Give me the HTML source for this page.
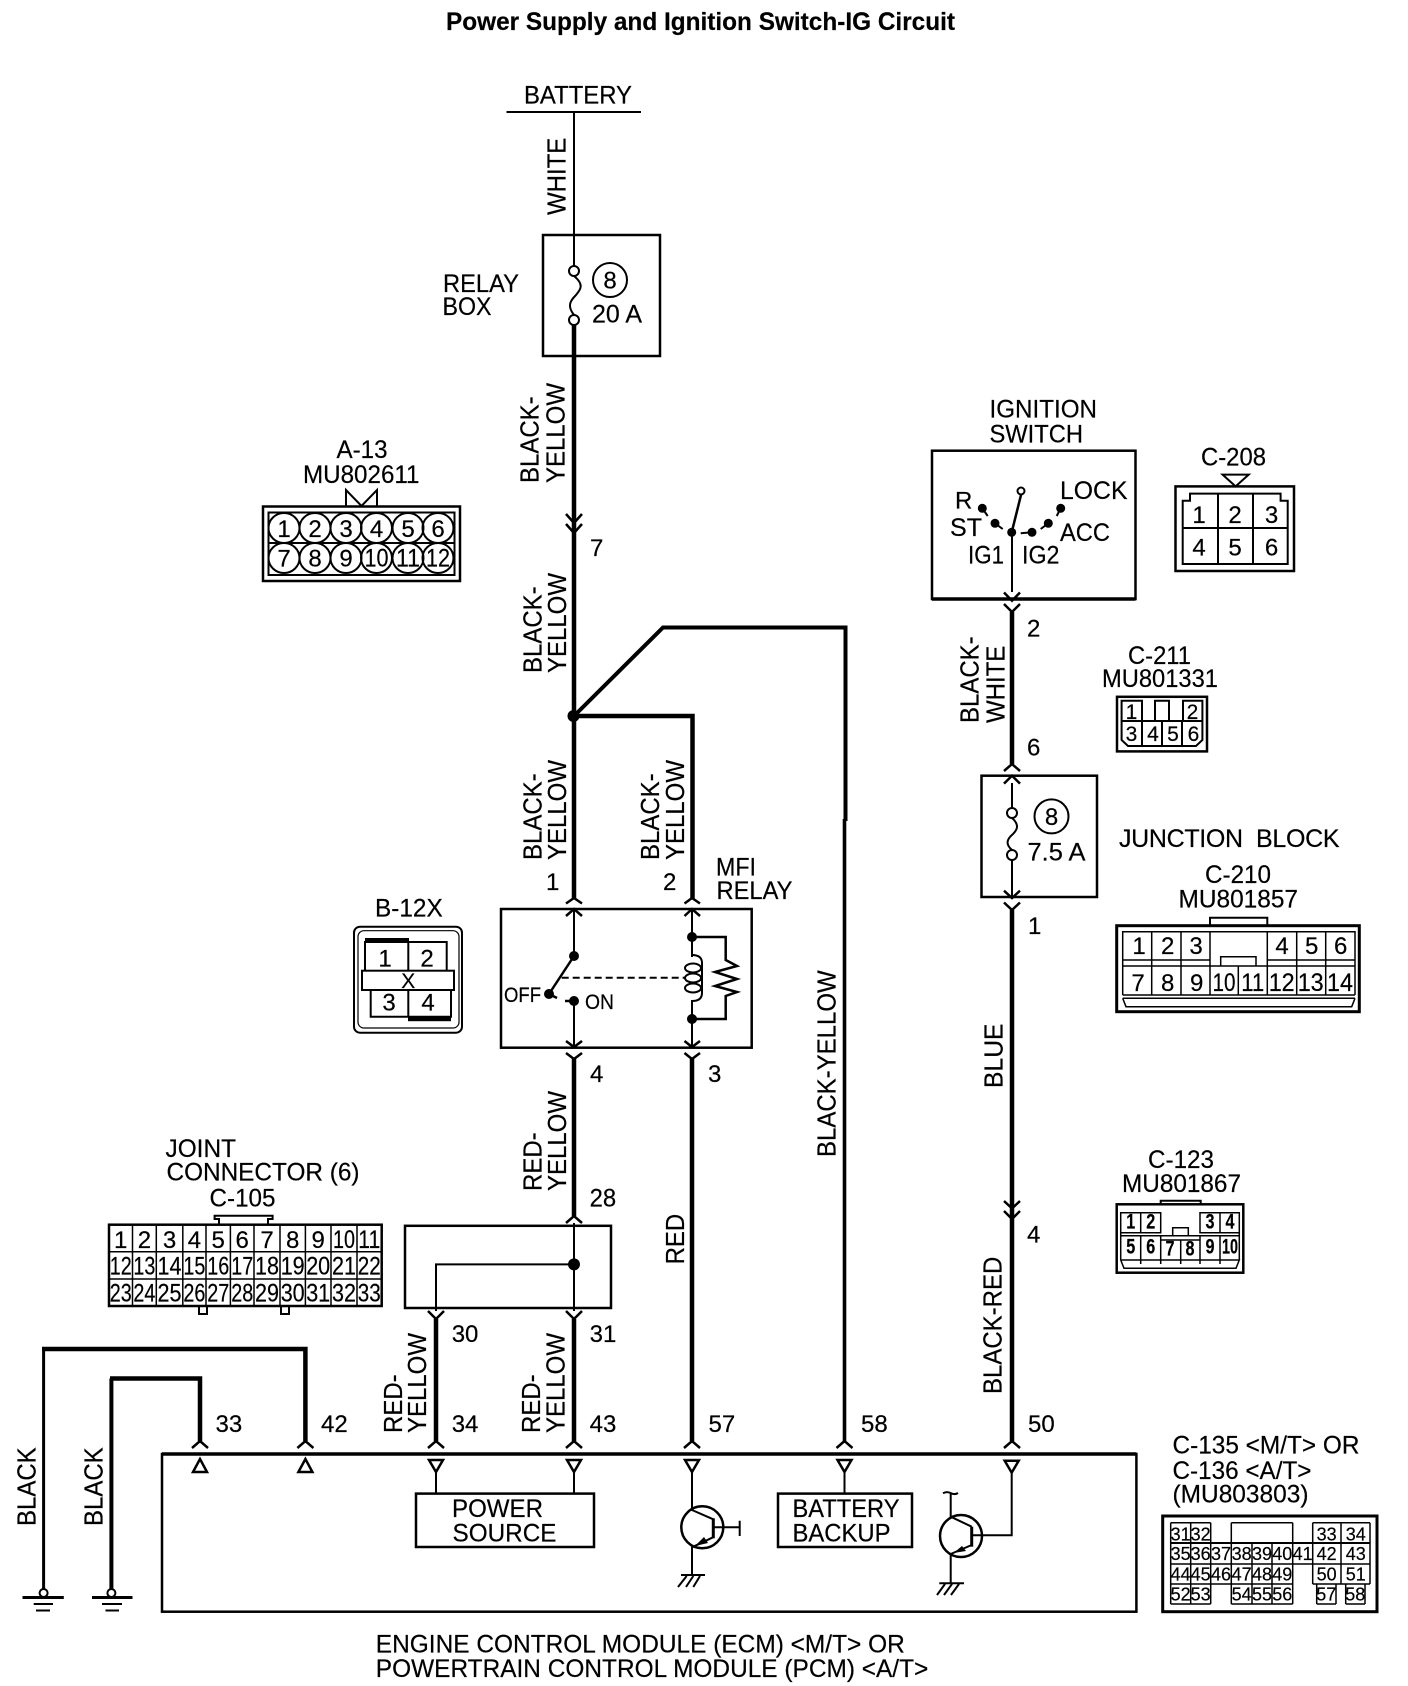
<!DOCTYPE html>
<html><head><meta charset="utf-8"><title>Power Supply and Ignition Switch-IG Circuit</title>
<style>
html,body{margin:0;padding:0;background:#fff}
svg{display:block}
text{font-family:"Liberation Sans",sans-serif;font-size:24px;fill:#000;stroke:#000;stroke-width:.2px}
text[textLength]:not(.m):not(.s){font-size:25px}
.s{font-size:18px}.m{font-size:21px}
.b{font-weight:bold}
.l{fill:none;stroke:#000;stroke-width:2}
.t{fill:none;stroke:#000;stroke-width:4.5}
.c{fill:none;stroke:#000;stroke-width:2.5}
</style></head><body>
<svg width="1408" height="1686" viewBox="0 0 1408 1686" xmlns="http://www.w3.org/2000/svg">
<rect width="1408" height="1686" fill="#fff"/>
<text class="b" x="446" y="30" textLength="509" lengthAdjust="spacingAndGlyphs">Power Supply and Ignition Switch-IG Circuit</text>

<!-- Battery + relay box -->
<text x="524" y="103.5" textLength="108" lengthAdjust="spacingAndGlyphs">BATTERY</text>
<path class="l" d="M506.5 112H641M574 112V266"/>
<text transform="translate(565.5,215) rotate(-90) scale(1,1.07)">WHITE</text>
<rect class="c" x="543" y="235" width="117" height="121"/>
<circle class="l" cx="574" cy="271" r="5"/><circle class="l" cx="574" cy="320" r="5"/>
<path class="l" d="M574 276C585 285 580 290 576 295C570 301 567 306 574 315"/>
<circle class="l" cx="610" cy="280" r="17"/>
<text x="610" y="288.6" text-anchor="middle">8</text>
<text x="592" y="322.5" textLength="50" lengthAdjust="spacingAndGlyphs">20 A</text>
<text x="443" y="292" textLength="76" lengthAdjust="spacingAndGlyphs">RELAY</text>
<text x="442.5" y="315" textLength="49" lengthAdjust="spacingAndGlyphs">BOX</text>
<text transform="translate(538.5,483) rotate(-90) scale(1,1.07)">BLACK-</text>
<text transform="translate(564.5,483) rotate(-90) scale(1,1.07)">YELLOW</text>
<text x="590" y="556">7</text>

<!-- Main wires -->
<path class="t" d="M574 325V899M574 716H692.5V899"/>
<path d="M574 716L663 627.5H845.5V821" fill="none" stroke="#000" stroke-width="4"/>
<path d="M844.5 819V1441" stroke="#000" stroke-width="3.6" fill="none"/>
<circle cx="573.5" cy="716" r="6"/>
<path class="c" d="M566 514L574 523L582 514M566 524L574 533L582 524"/>
<text transform="translate(541.7,673) rotate(-90) scale(1,1.07)">BLACK-</text>
<text transform="translate(566,673) rotate(-90) scale(1,1.07)">YELLOW</text>
<text transform="translate(541.7,860) rotate(-90) scale(1,1.07)">BLACK-</text>
<text transform="translate(566,860) rotate(-90) scale(1,1.07)">YELLOW</text>
<text transform="translate(659,860) rotate(-90) scale(1,1.07)">BLACK-</text>
<text transform="translate(684,860) rotate(-90) scale(1,1.07)">YELLOW</text>
<text transform="translate(835.5,1157) rotate(-90) scale(1,1.07)">BLACK-YELLOW</text>
<text x="546" y="890">1</text><text x="663" y="890">2</text>
<text x="716" y="875.7" textLength="40" lengthAdjust="spacingAndGlyphs">MFI</text>
<text x="716.5" y="899" textLength="76" lengthAdjust="spacingAndGlyphs">RELAY</text>

<!-- MFI relay -->
<rect class="c" x="501" y="909" width="250.7" height="138.7"/>
<path class="c" d="M566 903.5L574 898L582 903.5M566 916L574 909L582 916M684.5 903.5L692 898L700 903.5M684.5 916L692 909L700 916"/>
<path class="c" d="M566 1041L574 1047L582 1041M566 1053L574 1059L582 1053M684.5 1041L692 1047L700 1041M684.5 1053L692 1059L700 1053"/>
<path class="l" d="M574 909V956M574 1001V1047M692 909V957M692 1001V1047"/>
<circle cx="574" cy="956" r="5"/><circle cx="549" cy="994" r="5"/><circle cx="574" cy="1001" r="5"/>
<path class="c" d="M574 956L549 994M549 994L557 998M574 1001H565"/>
<path class="l" d="M561.7 977.7H685" stroke-dasharray="7 4"/>
<text class="m" x="504" y="1002" textLength="37" lengthAdjust="spacingAndGlyphs">OFF</text>
<text class="m" x="585" y="1009" textLength="29" lengthAdjust="spacingAndGlyphs">ON</text>
<circle cx="692" cy="937" r="5"/><circle cx="692" cy="1019" r="5"/>
<path class="c" d="M692 937H725.7V960L737 966L715 972L737 979L715 986L737 992L725.7 996V1019H692"/>
<path class="l" d="M692 955Q702 955 702 963V993Q702 1001 692 1001V1019"/>
<ellipse class="l" cx="693" cy="968" rx="8" ry="4.5"/>
<ellipse class="l" cx="693" cy="978" rx="8" ry="4.5"/>
<ellipse class="l" cx="693" cy="988" rx="8" ry="4.5"/>
<path class="t" d="M574 1059V1216M692 1059V1441"/>
<text x="590" y="1082">4</text><text x="708" y="1082">3</text>

<!-- Joint box -->
<text transform="translate(541.5,1191) rotate(-90) scale(1,1.07)">RED-</text>
<text transform="translate(566,1191) rotate(-90) scale(1,1.07)">YELLOW</text>
<text x="589.6" y="1206.6" textLength="26.5" lengthAdjust="spacingAndGlyphs">28</text>
<text transform="translate(684,1264.4) rotate(-90) scale(1,1.07)">RED</text>
<rect class="c" x="405" y="1225.8" width="206" height="82.2"/>
<path class="c" d="M566 1223L574 1216L582 1223M428 1311L436 1319L444 1311M566 1311L574 1319L582 1311"/>
<path class="l" d="M574 1223V1311M574 1264.4H436V1311"/>
<circle cx="574" cy="1264.4" r="6"/>
<path class="t" d="M436 1319V1441M574 1319V1441"/>
<text x="451.7" y="1342">30</text><text x="589.6" y="1342">31</text>
<text x="451.7" y="1432">34</text><text x="589.6" y="1432">43</text>
<text x="215.5" y="1432">33</text><text x="321" y="1432">42</text>
<text x="708.5" y="1432">57</text><text x="861" y="1432">58</text><text x="1028" y="1432">50</text>
<text transform="translate(402,1433) rotate(-90) scale(1,1.07)">RED-</text>
<text transform="translate(426,1433) rotate(-90) scale(1,1.07)">YELLOW</text>
<text transform="translate(540,1433) rotate(-90) scale(1,1.07)">RED-</text>
<text transform="translate(564.5,1433) rotate(-90) scale(1,1.07)">YELLOW</text>

<!-- Grounds -->
<path d="M43.6 1349V1589" stroke="#000" stroke-width="3" fill="none"/>
<path class="t" d="M42 1349H305.4V1441M110 1378.5H200V1441"/>
<path d="M111.4 1378.5V1589" stroke="#000" stroke-width="4" fill="none"/>
<circle class="l" cx="43.6" cy="1593" r="4"/><circle class="l" cx="111.4" cy="1593" r="4"/>
<path d="M22.5 1597.5H63.8M92 1597.5H132.5" stroke="#000" stroke-width="3"/>
<path class="l" d="M33.7 1604H53M102 1604H122M36 1610.5H50M105.5 1610.5H119"/>
<text transform="translate(35.5,1526) rotate(-90) scale(1,1.07)">BLACK</text>
<text transform="translate(102.5,1526) rotate(-90) scale(1,1.07)">BLACK</text>

<!-- ECM -->
<rect class="c" x="162" y="1454" width="974.4" height="157.7"/>
<path d="M162 1454H1136.4" stroke="#000" stroke-width="3.5"/>
<path class="c" d="M192 1448L200 1441L208 1448M297.4 1448L305.4 1441L313.4 1448M428 1448L436 1441L444 1448M566 1448L574 1441L582 1448M684 1448L692 1441L700 1448M836.5 1448L844.5 1441L852.5 1448M1004 1448L1012 1441L1020 1448"/>
<path class="c" d="M193 1472H207L200 1459ZM298.4 1472H312.4L305.4 1459Z"/>
<path class="c" d="M429 1460H443L436 1472ZM567 1460H581L574 1472ZM685 1460H699L692 1472ZM837.5 1460H851.5L844.5 1472ZM1004.7 1460.7H1018.7L1011.7 1472.7Z"/>
<path class="l" d="M436 1472V1493.6M574 1472V1493.6M844.5 1472V1493.6"/>
<rect class="c" x="416" y="1493.6" width="178" height="53.4"/>
<text x="452" y="1517" textLength="91" lengthAdjust="spacingAndGlyphs">POWER</text>
<text x="452.5" y="1541.7" textLength="104" lengthAdjust="spacingAndGlyphs">SOURCE</text>
<rect class="c" x="778" y="1493.6" width="134" height="53.4"/>
<text x="792.5" y="1517" textLength="107" lengthAdjust="spacingAndGlyphs">BATTERY</text>
<text x="792.5" y="1541.7" textLength="98" lengthAdjust="spacingAndGlyphs">BACKUP</text>
<text x="375.8" y="1652.5" textLength="529" lengthAdjust="spacingAndGlyphs">ENGINE CONTROL MODULE (ECM) &lt;M/T&gt; OR</text>
<text x="375.8" y="1677" textLength="552.5" lengthAdjust="spacingAndGlyphs">POWERTRAIN CONTROL MODULE (PCM) &lt;A/T&gt;</text>

<!-- Transistor left -->
<circle class="c" cx="702.3" cy="1527.3" r="21"/>
<path class="l" d="M692 1472V1510L713.3 1519.3M713.3 1527.3H739.7M739.7 1520.7V1536M713 1537.3L692 1547.3V1575M681 1575H705M686.7 1576L678 1587M693.3 1576L686 1587M700 1576L693.3 1587"/>
<path d="M713.3 1518.3V1538.3" stroke="#000" stroke-width="3"/>
<path d="M695 1546L704 1537L708 1543Z"/>
<!-- Transistor right -->
<circle class="c" cx="961" cy="1536" r="21"/>
<path class="l" d="M1011.7 1472V1535.3H971.7M950.7 1493.3V1516.7L971.7 1526.7M971.7 1545L950.7 1554V1583.3M943 1493.3Q947 1491 951 1493.3Q955 1495 958 1493M939.3 1583.3H964M945 1584L937 1595M952 1584L944 1595M959 1584L951 1595"/>
<path d="M971.7 1526.7V1546.7" stroke="#000" stroke-width="3"/>
<path d="M953.5 1553L962 1546L966 1551Z"/>

<!-- Ignition switch -->
<text x="989.5" y="417.5" textLength="107.5" lengthAdjust="spacingAndGlyphs">IGNITION</text>
<text x="989.5" y="442.5" textLength="93.5" lengthAdjust="spacingAndGlyphs">SWITCH</text>
<rect class="c" x="932" y="450.7" width="203.5" height="148.3"/>
<path d="M932 599H1135.5" stroke="#000" stroke-width="3.5"/>
<path class="l" d="M1012 532V592"/>
<path class="c" d="M1011.7 532.3L1021 495"/>
<circle class="l" cx="1021" cy="491" r="3.5"/>
<circle cx="1011.7" cy="532.3" r="4.5"/>
<circle cx="982.3" cy="508.3" r="4.5"/><circle cx="995" cy="523.3" r="4.5"/>
<circle cx="1032" cy="532.3" r="4.5"/><circle cx="1048.3" cy="523.3" r="4.5"/><circle cx="1060.7" cy="508.3" r="4.5"/>
<path class="l" d="M982.3 508.3L987.7 516M995 523.3L1002.7 529M1032 532.3L1020.7 533.3M1048.3 523.3L1040.7 529M1060.7 508.3L1056.7 516"/>
<text x="955" y="508.3">R</text><text x="950" y="536" textLength="32" lengthAdjust="spacingAndGlyphs">ST</text>
<text x="1060" y="499" textLength="67.5" lengthAdjust="spacingAndGlyphs">LOCK</text>
<text x="1060" y="541" textLength="50" lengthAdjust="spacingAndGlyphs">ACC</text>
<text x="968" y="563.3" textLength="36" lengthAdjust="spacingAndGlyphs">IG1</text>
<text x="1022" y="563.3" textLength="37.5" lengthAdjust="spacingAndGlyphs">IG2</text>
<path class="c" d="M1004 592.5L1012 600.7L1020 592.5M1004 604L1012 612L1020 604"/>
<path class="t" d="M1012 612V764"/>
<text x="1027" y="636.4">2</text><text x="1027" y="755.5">6</text>
<text transform="translate(978.5,723) rotate(-90) scale(1,1.07)">BLACK-</text>
<text transform="translate(1004.5,723) rotate(-90) scale(1,1.07)">WHITE</text>

<!-- Junction block -->
<path class="c" d="M1004 771L1012 764L1020 771M1004 783.6L1012 775.7L1020 783.6"/>
<rect class="c" x="981.5" y="775.7" width="115.5" height="121.3"/>
<path class="l" d="M1012 783V808M1012 860V898"/>
<circle class="l" cx="1012" cy="813" r="5"/><circle class="l" cx="1012" cy="855" r="5"/>
<path class="l" d="M1012 818C1020 825 1017 830 1013 834C1007 839 1005 844 1012 850"/>
<circle class="l" cx="1051.5" cy="816.4" r="17"/>
<text x="1051.5" y="825" text-anchor="middle">8</text>
<text x="1027.5" y="860.4" textLength="58" lengthAdjust="spacingAndGlyphs">7.5 A</text>
<path class="c" d="M1004 890.7L1012 898L1020 890.7M1004 902.5L1012 910L1020 902.5"/>
<path class="t" d="M1012 910V1219M1012 1219V1441"/>
<path class="c" d="M1004 1201L1012 1208.4L1020 1201M1004 1211L1012 1219L1020 1211"/>
<text x="1028" y="934">1</text><text x="1027" y="1242.7">4</text>
<text transform="translate(1002.7,1088) rotate(-90) scale(1.03,1.07)">BLUE</text>
<text transform="translate(1001.6,1394) rotate(-90) scale(1,1.07)">BLACK-RED</text>
<text x="1119" y="847" textLength="220.5" xml:space="preserve" lengthAdjust="spacing">JUNCTION  BLOCK</text>
<text x="1205" y="883" textLength="66" lengthAdjust="spacingAndGlyphs">C-210</text>
<text x="1178.5" y="907.5" textLength="119.5" lengthAdjust="spacingAndGlyphs">MU801857</text>

<!-- A-13 -->
<text x="336.5" y="458" textLength="51" lengthAdjust="spacingAndGlyphs">A-13</text>
<text x="303" y="483" textLength="116.5" lengthAdjust="spacingAndGlyphs">MU802611</text>
<path class="l" d="M346 506V490L361.5 506L377 490V506"/>
<rect class="c" x="263" y="506.5" width="197" height="74.5"/>
<rect class="l" x="268.5" y="512.5" width="186" height="62.5" stroke-width="1.5"/>
<path class="l" d="M268.5 543H454.5"/>
<g class="l">
<ellipse cx="284" cy="528" rx="15.5" ry="15"/><ellipse cx="315" cy="528" rx="15.5" ry="15"/><ellipse cx="346" cy="528" rx="15.5" ry="15"/><ellipse cx="376.5" cy="528" rx="15.5" ry="15"/><ellipse cx="408" cy="528" rx="15.5" ry="15"/><ellipse cx="438" cy="528" rx="15.5" ry="15"/>
<ellipse cx="284" cy="558" rx="15.5" ry="15"/><ellipse cx="315" cy="558" rx="15.5" ry="15"/><ellipse cx="346" cy="558" rx="15.5" ry="15"/><ellipse cx="376.5" cy="558" rx="15.5" ry="15"/><ellipse cx="408" cy="558" rx="15.5" ry="15"/><ellipse cx="438" cy="558" rx="15.5" ry="15"/>
</g>
<g text-anchor="middle">
<text x="284" y="537">1</text><text x="315" y="537">2</text><text x="346" y="537">3</text><text x="376.5" y="537">4</text><text x="408" y="537">5</text><text x="438" y="537">6</text>
<text x="284" y="566.5">7</text><text x="315" y="566.5">8</text><text x="346" y="566.5">9</text>
<text x="376.5" y="566.5" textLength="24" lengthAdjust="spacingAndGlyphs">10</text><text x="408" y="566.5" textLength="24" lengthAdjust="spacingAndGlyphs">11</text><text x="438" y="566.5" textLength="24" lengthAdjust="spacingAndGlyphs">12</text>
</g>

<!-- B-12X -->
<text x="375" y="916.7" textLength="67.7" lengthAdjust="spacingAndGlyphs">B-12X</text>
<rect class="l" x="354" y="926.7" width="108" height="106" rx="6"/>
<rect x="358" y="930.7" width="101" height="97.3" rx="6" fill="none" stroke="#000" stroke-width="1.2"/>
<path class="l" d="M365 970.7V942H446.7V970.7M370.7 990V1016.7H451V990M408.3 942V1016.7"/>
<rect class="l" x="362" y="970.7" width="92" height="19.3" style="fill:#fff"/>
<rect x="365" y="938" width="44" height="4.5"/><rect x="408" y="1016.7" width="43" height="4.5"/>
<text x="408.3" y="988" text-anchor="middle" class="m">X</text>
<g text-anchor="middle"><text x="385" y="966.7">1</text><text x="427" y="966.7">2</text><text x="389" y="1010.7">3</text><text x="428" y="1010.7">4</text></g>

<!-- C-208 -->
<text x="1201" y="465.7" textLength="65" lengthAdjust="spacingAndGlyphs">C-208</text>
<path class="l" d="M1222.6 474.6H1248.7L1235.6 486.4Z"/>
<rect class="c" x="1175.5" y="486.4" width="118.5" height="84.6"/>
<path class="l" stroke-width="1.5" d="M1182.7 564V500.7H1190V493.6H1280.6V500.7H1287.7V564ZM1218 493.6V564M1253 493.6V564M1182.7 528H1287.7"/>
<g text-anchor="middle"><text x="1199" y="523">1</text><text x="1235" y="523">2</text><text x="1271.6" y="523">3</text><text x="1199" y="555.7">4</text><text x="1235" y="555.7">5</text><text x="1271.6" y="555.7">6</text></g>

<!-- C-211 -->
<text x="1128" y="664" textLength="63" lengthAdjust="spacingAndGlyphs">C-211</text>
<text x="1102" y="687" textLength="116" lengthAdjust="spacingAndGlyphs">MU801331</text>
<rect class="c" x="1117" y="696.8" width="90" height="54.6"/>
<path class="l" stroke-width="1.5" d="M1121.6 721V700.7H1142V721M1155 721V700.7H1169V721M1183 721V700.7H1202.4V721M1121.6 721H1202.4V740L1196 746H1128L1121.6 740ZM1142 721V746M1162 721V746M1182 721V746"/>
<g text-anchor="middle"><text class="m" x="1131.5" y="719">1</text><text class="m" x="1192.5" y="719">2</text><text class="m" x="1131.5" y="741">3</text><text class="m" x="1153" y="741">4</text><text class="m" x="1173" y="741">5</text><text class="m" x="1193.5" y="741">6</text></g>

<!-- C-210 -->
<path class="l" d="M1210 925.7V917.7H1267.3V925.7"/>
<rect x="1116.7" y="925.7" width="242.6" height="86" fill="none" stroke="#000" stroke-width="3"/>
<path stroke="#000" stroke-width="1.5" fill="none" d="M1122.7 995V931.7H1355V995M1122.7 960H1210M1267.3 960H1355M1122.7 966H1355M1122.7 995H1355M1122.7 998.3H1355M1122.7 998.3L1126 1006.7H1351.7L1355 998.3M1151.7 931.7V995M1181 931.7V995M1210 931.7V995M1238.3 966V995M1267.3 931.7V995M1296.7 931.7V995M1325.7 931.7V995M1220.7 966V956.7H1256V966"/>
<g text-anchor="middle">
<text x="1139" y="954">1</text><text x="1167.7" y="954">2</text><text x="1196" y="954">3</text><text x="1282" y="954">4</text><text x="1311.7" y="954">5</text><text x="1340.7" y="954">6</text>
<text x="1138" y="991">7</text><text x="1167.7" y="991">8</text><text x="1196.7" y="991">9</text><text x="1224" y="991" textLength="23" lengthAdjust="spacingAndGlyphs">10</text><text x="1252.7" y="991" textLength="23" lengthAdjust="spacingAndGlyphs">11</text><text x="1281.7" y="991" textLength="26" lengthAdjust="spacingAndGlyphs">12</text><text x="1310.7" y="991" textLength="26" lengthAdjust="spacingAndGlyphs">13</text><text x="1340" y="991" textLength="26" lengthAdjust="spacingAndGlyphs">14</text>
</g>

<!-- C-123 -->
<text x="1148" y="1168" textLength="66" lengthAdjust="spacingAndGlyphs">C-123</text>
<text x="1122" y="1192" textLength="119" lengthAdjust="spacingAndGlyphs">MU801867</text>
<path class="l" d="M1160.7 1204.3V1200.7H1200.7V1204.3"/>
<rect class="c" x="1116.7" y="1204.3" width="126.6" height="68.4"/>
<path stroke="#000" stroke-width="1.5" fill="none" d="M1120.7 1260V1212.7H1160.7V1232.7H1120.7M1140.7 1212.7V1232.7M1200 1212.7H1239.3V1232.7H1200ZM1220 1212.7V1232.7M1120.7 1235.7H1160.7V1240H1200V1235.7H1239.3M1160.7 1235.7H1200M1239.3 1232.7V1260M1120.7 1260H1239.3L1236 1268.3H1124L1120.7 1260M1140.7 1235.7V1264M1160.7 1240V1264M1180.7 1240V1264M1200 1235.7V1264M1220 1235.7V1264M1172.7 1235.7V1227.7H1188.3V1235.7"/>
<g text-anchor="middle">
<text class="m b" x="1130.7" y="1228.3" textLength="9" lengthAdjust="spacingAndGlyphs">1</text><text class="m b" x="1150.7" y="1228.3" textLength="9" lengthAdjust="spacingAndGlyphs">2</text><text class="m b" x="1210" y="1228.3" textLength="9" lengthAdjust="spacingAndGlyphs">3</text><text class="m b" x="1230" y="1228.3" textLength="9" lengthAdjust="spacingAndGlyphs">4</text>
<text class="m b" x="1130.7" y="1253.3" textLength="9" lengthAdjust="spacingAndGlyphs">5</text><text class="m b" x="1150.7" y="1253.3" textLength="9" lengthAdjust="spacingAndGlyphs">6</text><text class="m b" x="1170" y="1255.7" textLength="9" lengthAdjust="spacingAndGlyphs">7</text><text class="m b" x="1190" y="1255.7" textLength="9" lengthAdjust="spacingAndGlyphs">8</text><text class="m b" x="1210" y="1253.3" textLength="9" lengthAdjust="spacingAndGlyphs">9</text><text class="m b" x="1230" y="1253.3" textLength="16" lengthAdjust="spacingAndGlyphs">10</text>
</g>

<!-- C-105 -->
<text x="165.5" y="1157" textLength="70.5" lengthAdjust="spacingAndGlyphs">JOINT</text>
<text x="166.5" y="1180.6" textLength="193" lengthAdjust="spacingAndGlyphs">CONNECTOR (6)</text>
<text x="209.5" y="1206.6" textLength="66" lengthAdjust="spacingAndGlyphs">C-105</text>
<path class="l" d="M219 1224V1219H214.6V1215.7H272.6V1219H268V1224M199 1306V1314H207V1306M281 1306V1314H289V1306"/>
<rect class="c" x="109" y="1224.7" width="272.7" height="81.3"/>
<path stroke="#000" stroke-width="1.5" fill="none" d="M109 1251.8H381.7M109 1279H381.7M132.5 1224.7V1306M156.3 1224.7V1306M182.8 1224.7V1306M206 1224.7V1306M230.4 1224.7V1306M254 1224.7V1306M280 1224.7V1306M305.4 1224.7V1306M331 1224.7V1306M357 1224.7V1306"/>
<g text-anchor="middle">
<text x="120.7" y="1248">1</text><text x="144.4" y="1248">2</text><text x="169.5" y="1248">3</text><text x="194.4" y="1248">4</text><text x="218.2" y="1248">5</text><text x="242.2" y="1248">6</text><text x="267" y="1248">7</text><text x="292.7" y="1248">8</text><text x="318.2" y="1248">9</text><text x="344" y="1248" textLength="22" lengthAdjust="spacingAndGlyphs">10</text><text x="369.3" y="1248" textLength="22" lengthAdjust="spacingAndGlyphs">11</text>
<text x="120.7" y="1274.5" textLength="22" lengthAdjust="spacingAndGlyphs">12</text><text x="144.4" y="1274.5" textLength="22" lengthAdjust="spacingAndGlyphs">13</text><text x="169.5" y="1274.5" textLength="24" lengthAdjust="spacingAndGlyphs">14</text><text x="194.4" y="1274.5" textLength="22" lengthAdjust="spacingAndGlyphs">15</text><text x="218.2" y="1274.5" textLength="22" lengthAdjust="spacingAndGlyphs">16</text><text x="242.2" y="1274.5" textLength="22" lengthAdjust="spacingAndGlyphs">17</text><text x="267" y="1274.5" textLength="24" lengthAdjust="spacingAndGlyphs">18</text><text x="292.7" y="1274.5" textLength="24" lengthAdjust="spacingAndGlyphs">19</text><text x="318.2" y="1274.5" textLength="24" lengthAdjust="spacingAndGlyphs">20</text><text x="344" y="1274.5" textLength="24" lengthAdjust="spacingAndGlyphs">21</text><text x="369.3" y="1274.5" textLength="23" lengthAdjust="spacingAndGlyphs">22</text>
<text x="120.7" y="1301.6" textLength="22" lengthAdjust="spacingAndGlyphs">23</text><text x="144.4" y="1301.6" textLength="22" lengthAdjust="spacingAndGlyphs">24</text><text x="169.5" y="1301.6" textLength="24" lengthAdjust="spacingAndGlyphs">25</text><text x="194.4" y="1301.6" textLength="22" lengthAdjust="spacingAndGlyphs">26</text><text x="218.2" y="1301.6" textLength="22" lengthAdjust="spacingAndGlyphs">27</text><text x="242.2" y="1301.6" textLength="22" lengthAdjust="spacingAndGlyphs">28</text><text x="267" y="1301.6" textLength="24" lengthAdjust="spacingAndGlyphs">29</text><text x="292.7" y="1301.6" textLength="24" lengthAdjust="spacingAndGlyphs">30</text><text x="318.2" y="1301.6" textLength="24" lengthAdjust="spacingAndGlyphs">31</text><text x="344" y="1301.6" textLength="24" lengthAdjust="spacingAndGlyphs">32</text><text x="369.3" y="1301.6" textLength="23" lengthAdjust="spacingAndGlyphs">33</text>
</g>

<!-- C-135/136 -->
<text x="1172.5" y="1453.3" textLength="187" lengthAdjust="spacingAndGlyphs">C-135 &lt;M/T&gt; OR</text>
<text x="1172.5" y="1479" textLength="139" lengthAdjust="spacingAndGlyphs">C-136 &lt;A/T&gt;</text>
<text x="1172.5" y="1502.7" textLength="136" lengthAdjust="spacingAndGlyphs">(MU803803)</text>
<rect x="1162.7" y="1516" width="214.3" height="95.7" fill="none" stroke="#000" stroke-width="3"/>
<path stroke="#000" stroke-width="1.5" fill="none" d="M1170.7 1522.7H1210.7M1231.3 1522.7H1292.7M1312.7 1522.7H1370M1170.7 1564H1370M1170.7 1584H1292.7M1312.7 1584H1370M1170.7 1604H1210.7M1231.3 1604H1292.7M1316.7 1604H1336M1345.7 1604H1365M1170.7 1522.7V1604M1190.7 1522.7V1604M1210.7 1522.7V1604M1231.3 1522.7V1604M1252 1543V1604M1272 1543V1604M1292.7 1522.7V1604M1312.7 1522.7V1584M1341 1522.7V1584M1370 1522.7V1584M1316.7 1584V1604M1336 1584V1604M1345.7 1584V1604M1365 1584V1604"/>
<path d="M1170.7 1543H1370" stroke="#000" stroke-width="2"/>
<g text-anchor="middle">
<text class="s" x="1180.7" y="1540.7">31</text><text class="s" x="1200.7" y="1540.7">32</text><text class="s" x="1326.7" y="1540.7">33</text><text class="s" x="1355.8" y="1540.7">34</text>
<text class="s" x="1180.7" y="1560">35</text><text class="s" x="1200.7" y="1560">36</text><text class="s" x="1221" y="1560">37</text><text class="s" x="1241.6" y="1560">38</text><text class="s" x="1262" y="1560">39</text><text class="s" x="1282.3" y="1560">40</text><text class="s" x="1302.7" y="1560">41</text><text class="s" x="1326.7" y="1560">42</text><text class="s" x="1355.8" y="1560">43</text>
<text class="s" x="1180.7" y="1580.7">44</text><text class="s" x="1200.7" y="1580.7">45</text><text class="s" x="1221" y="1580.7">46</text><text class="s" x="1241.6" y="1580.7">47</text><text class="s" x="1262" y="1580.7">48</text><text class="s" x="1282.3" y="1580.7">49</text><text class="s" x="1326.7" y="1580.7">50</text><text class="s" x="1355.8" y="1580.7">51</text>
<text class="s" x="1180.7" y="1600.7">52</text><text class="s" x="1200.7" y="1600.7">53</text><text class="s" x="1241.6" y="1600.7">54</text><text class="s" x="1262" y="1600.7">55</text><text class="s" x="1282.3" y="1600.7">56</text><text class="s" x="1326.3" y="1600.7">57</text><text class="s" x="1355.3" y="1600.7">58</text>
</g>
</svg>
</body></html>
